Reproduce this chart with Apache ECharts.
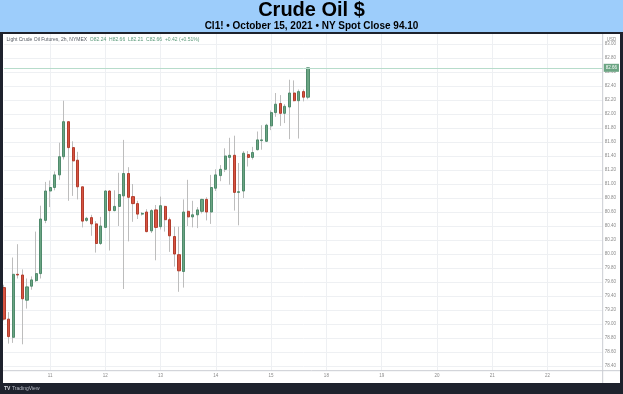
<!DOCTYPE html>
<html>
<head>
<meta charset="utf-8">
<title>Crude Oil $</title>
<script src="https://cdn.jsdelivr.net/npm/echarts@6/dist/echarts.min.js"></script>
<style>
  html, body { margin: 0; padding: 0; background: #ffffff; }
  #chart { width: 623px; height: 394px; }
</style>
</head>
<body>
<div id="chart"></div>
<script>
/* global echarts */

// 2h K 线，自左向右
const opens  = [79.52, 79.07, 78.81, 79.71, 79.70, 79.34, 79.54, 79.62, 79.72, 80.48,
                80.90, 80.95, 81.13, 81.39, 81.89, 81.52, 81.34, 80.96, 80.48, 80.52,
                80.43, 80.15, 80.38, 80.90, 80.62, 80.68, 80.83, 81.15, 80.82, 80.72,
                80.57, 80.60, 80.33, 80.63, 80.39, 80.68, 80.49, 80.25, 79.99, 79.75,
                80.61, 80.53, 80.56, 80.61, 80.78, 80.60, 80.94, 81.12, 81.21, 81.38,
                81.41, 80.88, 80.90, 81.42, 81.38, 81.49, 81.62, 81.61, 81.83, 82.02,
                82.15, 82.01, 82.10, 82.30, 82.19, 82.32, 82.24];
const closes = [79.07, 78.82, 79.71, 79.70, 79.36, 79.53, 79.63, 79.72, 80.50, 80.90,
                80.95, 81.13, 81.39, 81.89, 81.52, 81.33, 80.96, 80.47, 80.51, 80.43,
                80.15, 80.40, 80.90, 80.62, 80.68, 80.85, 81.15, 80.81, 80.72, 80.57,
                80.58, 80.32, 80.62, 80.38, 80.69, 80.49, 80.26, 80.00, 79.76, 80.60,
                80.53, 80.56, 80.63, 80.78, 80.60, 80.95, 81.13, 81.21, 81.40, 81.41,
                80.88, 80.89, 81.44, 81.38, 81.45, 81.63, 81.63, 81.84, 82.02, 82.14,
                82.01, 82.11, 82.30, 82.19, 82.32, 82.24, 82.66];
const lows   = [79.05, 78.72, 78.73, 79.65, 78.71, 79.22, 79.49, 79.60, 79.65, 80.44,
                80.67, 80.91, 81.06, 81.35, 80.76, 80.83, 80.78, 80.38, 80.46, 80.26,
                80.02, 80.13, 80.37, 80.05, 80.61, 80.40, 79.50, 80.18, 80.46, 80.50,
                80.55, 80.31, 80.30, 79.91, 80.35, 80.32, 80.03, 79.82, 79.46, 79.52,
                80.40, 80.38, 80.37, 80.58, 80.48, 80.43, 80.90, 81.04, 81.17, 80.99,
                80.62, 80.41, 80.80, 81.25, 81.35, 81.48, 81.49, 81.60, 81.77, 81.96,
                81.83, 81.87, 81.64, 82.18, 81.65, 82.18, 82.21];
const highs  = [79.56, 79.17, 79.95, 80.14, 79.78, 79.65, 79.68, 80.32, 80.69, 81.03,
                81.05, 81.18, 81.59, 82.19, 81.89, 81.61, 81.46, 80.96, 80.53, 80.56,
                80.47, 80.53, 80.91, 80.91, 80.91, 81.16, 81.63, 81.24, 81.00, 80.76,
                80.60, 80.64, 80.64, 80.70, 80.82, 80.69, 80.52, 80.39, 80.39, 80.78,
                81.06, 80.76, 80.67, 80.79, 80.81, 81.13, 81.21, 81.27, 81.51, 81.66,
                81.69, 81.30, 81.47, 81.47, 81.53, 81.75, 81.84, 81.86, 82.05, 82.30,
                82.27, 82.14, 82.49, 82.48, 82.35, 82.35, 82.66];

// x 轴：每天 12 根 2h K 线，日期刻度（含右侧未来空白区）
const DAY_LABELS = ['11', '12', '13', '14', '15', '18', '19', '20', '21', '22'];
const FIRST_LABEL_SLOT = 10;
const SLOTS_PER_DAY = 12;
const SLOT_COUNT = 131;

// y 轴价格刻度
const PRICE_MIN = 78.4;
const PRICE_MAX = 83.0;
const PRICE_STEP = 0.2;

const TITLE = 'Crude Oil $';
const SUBTITLE = 'Cl1! \u2022 October 15, 2021 \u2022 NY Spot Close 94.10';
const SYMBOL_NAME = 'Light Crude Oil Futures, 2h, NYMEX';

/**
 * TradingView 风格配色
 *  上涨 #6ba583  下跌 #d75442  影线 #bdbdbd  网格 #eef0f3
 *  外框 #1e222d  标题栏 #9dcdfb
 */
const UP = '#6ba583';
const UP_BORDER = '#4f8a6c';
const DOWN = '#d75442';
const DOWN_BORDER = '#b23d2d';
const WICK = '#bdbdbd';
const GRID_LINE = '#eef0f3';
const FRAME = '#1e222d';
const HEADER = '#9dcdfb';
const AXIS_TEXT = '#8a8a8a';
const FONT = '"Liberation Sans", Arial, sans-serif';

// 类目：空串为无刻度
const slots = Array.from({ length: SLOT_COUNT }, () => '');
DAY_LABELS.forEach((d, i) => { slots[FIRST_LABEL_SLOT + i * SLOTS_PER_DAY] = d; });

// 影线层（完整 OHLC）与实体层（只取开收）
const wickData = opens.map((o, i) => [o, closes[i], lows[i], highs[i]]);
const bodyData = opens.map((o, i) => [o, closes[i], Math.min(o, closes[i]), Math.max(o, closes[i])]);

const last = opens.length - 1;
const lastClose = closes[last];
const change = lastClose - closes[last - 1];
const changePct = change / closes[last - 1] * 100;
const sign = (v) => (v >= 0 ? '+' : '');

const hasLabel = (i, v) => v !== '';

const chart = echarts.init(document.getElementById('chart'));
chart.setOption({
  animation: false,
  backgroundColor: '#ffffff',
  textStyle: { fontFamily: FONT },
  grid: [
    // 0：整块绘图区（竖网格 + 日期）
    { left: 4, right: 20.3, top: 34, bottom: 23.3, outerBoundsMode: 'none' },
    // 1：价格刻度区（横网格 + K 线）
    { left: 4, right: 20.3, top: 44, bottom: 28, outerBoundsMode: 'none' },
  ],
  xAxis: [
    {
      type: 'category',
      gridIndex: 0,
      data: slots,
      boundaryGap: false,
      axisLine: { show: false },
      axisTick: { show: false },
      axisLabel: {
        interval: hasLabel,
        fontSize: 4.5,
        color: AXIS_TEXT,
        margin: 3,
        fontFamily: FONT,
      },
      splitLine: { show: true, interval: hasLabel, lineStyle: { color: GRID_LINE, width: 1 } },
    },
    {
      type: 'category',
      gridIndex: 1,
      data: slots,
      boundaryGap: false,
      show: false,
    },
  ],
  yAxis: [
    { type: 'value', gridIndex: 0, show: false },
    {
      type: 'value',
      gridIndex: 1,
      position: 'right',
      min: PRICE_MIN,
      max: PRICE_MAX,
      interval: PRICE_STEP,
      axisLine: { show: false },
      axisTick: { show: false },
      axisLabel: {
        fontSize: 4.5,
        color: AXIS_TEXT,
        margin: 2,
        fontFamily: FONT,
        formatter: (v) => v.toFixed(2),
      },
      splitLine: { show: true, lineStyle: { color: GRID_LINE, width: 1 } },
    },
  ],
  series: [
    {
      name: 'wick',
      type: 'candlestick',
      xAxisIndex: 1,
      yAxisIndex: 1,
      data: wickData,
      barWidth: 0.5,
      silent: true,
      itemStyle: { color: WICK, color0: WICK, borderColor: WICK, borderColor0: WICK, borderWidth: 1 },
    },
    {
      name: 'body',
      type: 'candlestick',
      xAxisIndex: 1,
      yAxisIndex: 1,
      data: bodyData,
      barWidth: 2.6,
      silent: true,
      itemStyle: { color: UP, color0: DOWN, borderColor: UP_BORDER, borderColor0: DOWN_BORDER, borderWidth: 1 },
      markLine: {
        silent: true,
        symbol: 'none',
        lineStyle: { color: '#b7dccb', type: 'solid', width: 1 },
        label: {
          position: 'end',
          distance: 1,
          formatter: lastClose.toFixed(2),
          color: '#ffffff',
          fontSize: 4.5,
          fontFamily: FONT,
          backgroundColor: UP,
          padding: [1.5, 2],
        },
        data: [{ yAxis: lastClose }],
      },
    },
  ],
  graphic: [
    // 标题栏
    { type: 'rect', z: 100, shape: { x: 0, y: 0, width: 623, height: 32 }, style: { fill: HEADER } },
    { type: 'text', z: 101, x: 311.5, y: 10.5,
      style: { text: TITLE, font: `bold 20px ${FONT}`, fill: '#000000', align: 'center', verticalAlign: 'middle' } },
    { type: 'text', z: 101, x: 311.5, y: 26,
      style: { text: SUBTITLE, font: `bold 10px ${FONT}`, fill: '#000000', align: 'center', verticalAlign: 'middle' } },
    // 深色外框
    { type: 'rect', z: 100, shape: { x: 0, y: 32, width: 623, height: 2 }, style: { fill: FRAME } },
    { type: 'rect', z: 100, shape: { x: 0, y: 32, width: 3, height: 362 }, style: { fill: FRAME } },
    { type: 'rect', z: 100, shape: { x: 620, y: 32, width: 3, height: 362 }, style: { fill: FRAME } },
    { type: 'rect', z: 100, shape: { x: 0, y: 383, width: 623, height: 11 }, style: { fill: FRAME } },
    // 价格轴 / 时间轴分隔线
    { type: 'line', z: 90, shape: { x1: 602.7, y1: 34, x2: 602.7, y2: 383 }, style: { stroke: '#c9ccd2', lineWidth: 1 } },
    { type: 'line', z: 90, shape: { x1: 3, y1: 370.7, x2: 620, y2: 370.7 }, style: { stroke: '#c9ccd2', lineWidth: 1 } },
    // 左上角图例
    { type: 'text', z: 101, x: 6.5, y: 40,
      style: {
        text: `{n|${SYMBOL_NAME}}  {v|O${opens[last].toFixed(2)}  H${highs[last].toFixed(2)}  L${lows[last].toFixed(2)}  C${lastClose.toFixed(2)}  ${sign(change)}${change.toFixed(2)} (${sign(changePct)}${changePct.toFixed(2)}%)}`,
        verticalAlign: 'middle',
        font: `5px ${FONT}`,
        rich: {
          n: { fill: '#555a63', fontSize: 5, fontFamily: FONT },
          v: { fill: '#5a9a7a', fontSize: 5, fontFamily: FONT },
        },
      } },
    { type: 'text', z: 101, x: 611.5, y: 39.5,
      style: { text: 'USD', font: `4.5px ${FONT}`, fill: AXIS_TEXT, align: 'center', verticalAlign: 'middle' } },
    // TradingView 标识
    { type: 'text', z: 101, x: 4, y: 389,
      style: { text: 'TV', font: `bold 5px ${FONT}`, fill: '#d6d8de', verticalAlign: 'middle' } },
    { type: 'text', z: 101, x: 12, y: 389,
      style: { text: 'TradingView', font: `5px ${FONT}`, fill: '#b8bcc6', verticalAlign: 'middle' } },
  ],
});
</script>
</body>
</html>
